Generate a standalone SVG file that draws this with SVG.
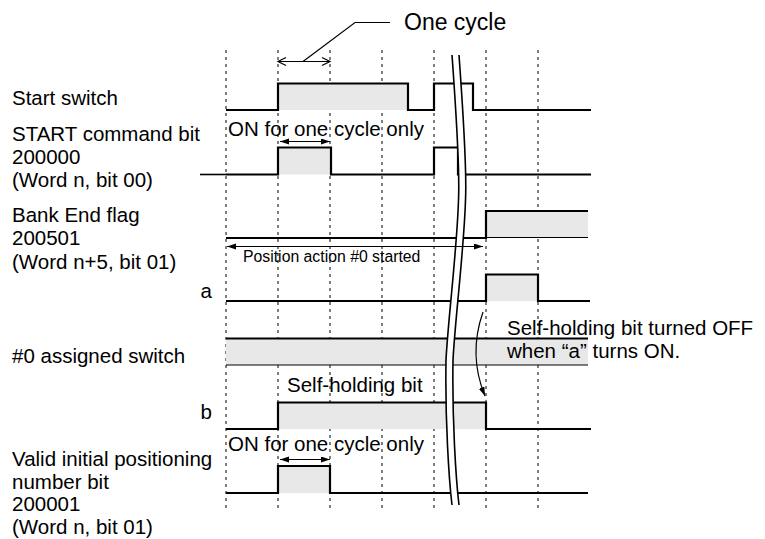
<svg xmlns="http://www.w3.org/2000/svg" width="765" height="539" viewBox="0 0 765 539">
<style>
text { font-family: "Liberation Sans", Arial, Helvetica, sans-serif; fill: #000; }
.lbl { font-size: 20.5px; }
.sm { font-size: 15.8px; }
.big { font-size: 23px; }
.grid { stroke: #000; stroke-width: 1; stroke-dasharray: 3 4; fill: none; }
.wave { fill: none; stroke: #000; stroke-width: 2.2; stroke-linejoin: miter; }
.thin { fill: none; stroke: #000; stroke-width: 1; }
.shade { fill: #e8e8e8; stroke: none; }
.arr { fill: none; stroke: #000; stroke-width: 1.2; }
.brk { fill: none; stroke: #000; stroke-width: 1.6; }
</style>
<defs>
<marker id="ah" markerUnits="userSpaceOnUse" markerWidth="10" markerHeight="8" refX="9" refY="3" orient="auto-start-reverse">
<path d="M0,0 L9,3 L0,6 Z" fill="#000"/>
</marker>
</defs>
<rect width="765" height="539" fill="#fff"/>

<g id="grid">
<line class="grid" x1="226" y1="50" x2="226" y2="510"/>
<line class="grid" x1="278" y1="50" x2="278" y2="510"/>
<line class="grid" x1="330" y1="50" x2="330" y2="510"/>
<line class="grid" x1="382" y1="50" x2="382" y2="510"/>
<line class="grid" x1="434" y1="50" x2="434" y2="510"/>
<line class="grid" x1="486" y1="50" x2="486" y2="510"/>
<line class="grid" x1="538" y1="50" x2="538" y2="510"/>
</g>

<g id="start-switch">
<text class="lbl" x="12" y="105">Start switch</text>
<rect class="shade" x="278" y="83.5" width="130" height="26.5"/>
<path class="wave" d="M226,110 H278 V83.5 H408 V110 H434 V83.5 H473 V110 H591"/>
</g>

<g id="start-command-bit">
<text class="lbl" x="12" y="141">START command bit</text>
<text class="lbl" x="12" y="164">200000</text>
<text class="lbl" x="12" y="187">(Word n, bit 00)</text>
<rect class="shade" x="278" y="147.5" width="53" height="27"/>
<path class="thin" d="M200,174.5 H226" style="stroke-width:1.6"/>
<path class="wave" d="M226,174.5 H278 V147.5 H331 V174.5 H434 V147.5 H458 V174.5 H591"/>
</g>

<g id="bank-end-flag">
<text class="lbl" x="12" y="221.5">Bank End flag</text>
<text class="lbl" x="12" y="245">200501</text>
<text class="lbl" x="12" y="268.5">(Word n+5, bit 01)</text>
<rect class="shade" x="486" y="211" width="102" height="26.5"/>
<path class="wave" d="M226,238 H486 V211 H588"/>
<path class="thin" d="M486,237.5 H588"/>
</g>

<g id="signal-a">
<text class="lbl" x="212" y="298" text-anchor="end">a</text>
<rect class="shade" x="486" y="274.5" width="52" height="26.5"/>
<path class="wave" d="M226,301 H486 V274.5 H538 V301 H590"/>
</g>

<g id="assigned-switch">
<text class="lbl" x="12" y="363">#0 assigned switch</text>
<rect class="shade" x="226" y="338.5" width="362" height="26.5"/>
<path class="wave" d="M226,338.5 H588"/>
<path class="thin" d="M226,365 H588"/>
</g>

<g id="signal-b">
<text class="lbl" x="212" y="419" text-anchor="end">b</text>
<rect class="shade" x="278" y="402.5" width="208" height="26.5"/>
<path class="wave" d="M226,429 H278 V402.5 H486 V429 H591"/>
</g>

<g id="valid-initial">
<text class="lbl" x="12" y="466">Valid initial positioning</text>
<text class="lbl" x="12" y="488.5">number bit</text>
<text class="lbl" x="12" y="511">200001</text>
<text class="lbl" x="12" y="533.5">(Word n, bit 01)</text>
<rect class="shade" x="278" y="466" width="52" height="27"/>
<path class="wave" d="M226,493 H278 V466 H330 V493 H588"/>
</g>

<g id="time-break">
<path d="M452,55 C456,110 460,170 458.5,200 C457,250 448,320 446,360 C445,420 449,480 452,505 L459,505 C456,480 452,420 453,360 C455,320 464,250 465.5,200 C467,170 463,110 459,55 Z" fill="#fff" stroke="none"/>
<path class="brk" d="M452,55 C456,110 460,170 458.5,200 C457,250 448,320 446,360 C445,420 449,480 452,505"/>
<path class="brk" d="M459,55 C463,110 467,170 465.5,200 C464,250 455,320 453,360 C452,420 456,480 459,505"/>
</g>

<g id="connectors">
<path class="arr" d="M278,61.5 H330 M286,57.5 L278,61.5 L286,65.5 M322,57.5 L330,61.5 L322,65.5"/>
<path class="arr" d="M303,61.5 L355,22.5 H390"/>
<path class="arr" d="M280,141.5 H330" marker-start="url(#ah)" marker-end="url(#ah)"/>
<path class="arr" d="M227,246.5 H483" marker-start="url(#ah)" marker-end="url(#ah)"/>
<path class="arr" d="M483,312 Q468,355 485,396" marker-end="url(#ah)"/>
<path class="arr" d="M280,459.5 H330" marker-start="url(#ah)" marker-end="url(#ah)"/>
</g>

<g id="annotations">
<text class="big" x="404" y="30">One cycle</text>
<text class="lbl" x="228" y="136">ON for one cycle only</text>
<text class="sm" x="243" y="262">Position action #0 started</text>
<text class="lbl" x="507" y="335">Self-holding bit turned OFF</text>
<text class="lbl" x="507" y="358">when “a” turns ON.</text>
<text class="lbl" x="287" y="391.5">Self-holding bit</text>
<text class="lbl" x="228" y="450.5">ON for one cycle only</text>
</g>
</svg>
